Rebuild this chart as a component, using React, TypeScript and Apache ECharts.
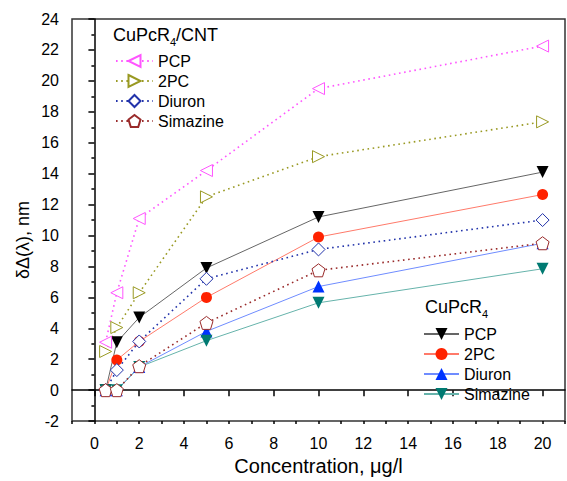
import React, { useEffect, useRef } from "react";
import * as echarts from "echarts";

const conc = [0.5, 1, 2, 5, 10, 20];
const pcp = [0, 3.1, 4.7, 7.9, 11.2, 14.1];
const pc2 = [0, 1.95, 3.15, 6.0, 9.9, 12.65];
const diuron = [0, 0, 1.5, 3.8, 6.7, 9.5];
const simazine = [0, 0, 1.5, 3.2, 5.65, 7.85];
const pcpCnt = [3.1, 6.3, 11.1, 14.2, 19.5, 22.25];
const pc2Cnt = [2.5, 4.05, 6.3, 12.5, 15.1, 17.35];
const diuronCnt = [0, 1.3, 3.15, 7.2, 9.1, 11.0];
const simazineCnt = [0, 0, 1.55, 4.35, 7.75, 9.5];

const xMajor = [0, 2, 4, 6, 8, 10, 12, 14, 16, 18, 20];

const FONT = "'Liberation Sans', Arial, Helvetica, sans-serif";

const DOWN = "path://M0,0 L10,0 L5,9 Z";
const LEFT = "path://M0,5 L9,0 L9,10 Z";
const RIGHT = "path://M0,0 L9,5 L0,10 Z";
const PENT = "path://M5,0 L10,3.8 L8.1,10 L1.9,10 L0,3.8 Z";

const pts = (ys: number[]) => conc.map((c, i) => [c, ys[i]]);

export default function App() {
  const ref = useRef<HTMLDivElement>(null);
  useEffect(() => {
    if (!ref.current) return;
    const chart = echarts.init(ref.current, null, { renderer: "svg" });
    const solid = (name: string, data: number[], symbol: string, size: number, mColor: string, lColor: string) => ({
      name,
      type: "line",
      data: pts(data),
      symbol,
      symbolSize: size,
      showAllSymbol: true,
      itemStyle: { color: mColor, borderWidth: 0 },
      lineStyle: { color: lColor, width: 1, type: "solid" },
      emphasis: { disabled: true },
    });
    const dotted = (name: string, data: number[], symbol: string, size: number, color: string) => ({
      name,
      type: "line",
      data: pts(data),
      symbol,
      symbolSize: size,
      showAllSymbol: true,
      itemStyle: { color: "#ffffff", borderColor: color, borderWidth: 1 },
      lineStyle: { color, width: 1.6, type: [1.6, 3.6] },
      emphasis: { disabled: true },
    });
    const option: any = {
      animation: false,
      backgroundColor: "#ffffff",
      textStyle: { fontFamily: FONT },
      grid: {
        left: 72,
        right: 2,
        top: 19,
        bottom: 53,
        show: true,
        borderColor: "#333",
        borderWidth: 1.5,
        backgroundColor: "transparent",
      },
      xAxis: [
        {
          type: "value",
          min: -1,
          max: 21,
          position: "bottom",
          axisLine: { show: true, lineStyle: { color: "#000", width: 1.5 } },
          axisTick: { show: true, inside: false, length: 6, customValues: xMajor, lineStyle: { color: "#000", width: 1.5 } },
          axisLabel: { customValues: xMajor, fontSize: 16, color: "#000", margin: 14, fontFamily: FONT },
          splitLine: { show: false },
          name: "Concentration, μg/l",
          nameLocation: "middle",
          nameGap: 28,
          nameTextStyle: { fontSize: 20, color: "#000", fontFamily: FONT },
        },
        {
          type: "value",
          min: -1,
          max: 21,
          interval: 1,
          position: "bottom",
          axisLine: { show: false },
          axisTick: { show: true, inside: false, length: 3, lineStyle: { color: "#000", width: 1.5 } },
          axisLabel: { show: false },
          splitLine: { show: false },
        },
      ],
      yAxis: {
        type: "value",
        min: -2,
        max: 24,
        interval: 2,
        axisLine: { show: true, lineStyle: { color: "#000", width: 1.5 } },
        axisTick: { show: true, inside: false, length: 6, lineStyle: { color: "#000", width: 1.5 } },
        minorTick: { show: true, splitNumber: 2, length: 3, lineStyle: { color: "#000", width: 1.5 } },
        axisLabel: { fontSize: 16, color: "#000", margin: 13, fontFamily: FONT },
        splitLine: { show: false },
      },
      legend: [
        {
          orient: "vertical",
          left: 115,
          top: 51,
          padding: 0,
          itemGap: 0,
          itemWidth: 37,
          itemHeight: 15,
          itemTextGap: 5,
          selectedMode: false,
          textStyle: { fontSize: 16, color: "#000", lineHeight: 20, fontFamily: FONT },
          data: ["PCP ", "2PC ", "Diuron ", "Simazine "],
        },
        {
          orient: "vertical",
          left: 423,
          top: 324,
          padding: 0,
          itemGap: 0,
          itemWidth: 35,
          itemHeight: 15,
          itemTextGap: 6,
          selectedMode: false,
          textStyle: { fontSize: 16, color: "#000", lineHeight: 20, fontFamily: FONT },
          data: ["PCP", "2PC", "Diuron", "Simazine"],
        },
      ],
      graphic: [
        { type: "text", x: 113, y: 35, style: { text: "CuPcR", fontSize: 18, fontFamily: FONT, fill: "#000", verticalAlign: "middle" } },
        { type: "text", x: 170, y: 42, style: { text: "4", fontSize: 11, fontFamily: FONT, fill: "#000", verticalAlign: "middle" } },
        { type: "text", x: 176, y: 35, style: { text: "/CNT", fontSize: 18, fontFamily: FONT, fill: "#000", verticalAlign: "middle" } },
        { type: "text", x: 425, y: 307, style: { text: "CuPcR", fontSize: 18, fontFamily: FONT, fill: "#000", verticalAlign: "middle" } },
        { type: "text", x: 482, y: 314, style: { text: "4", fontSize: 11, fontFamily: FONT, fill: "#000", verticalAlign: "middle" } },
        {
          type: "text",
          x: 23,
          y: 240,
          rotation: Math.PI / 2,
          style: { text: "δΔ(λ), nm", fontSize: 18, fontFamily: FONT, fill: "#000", align: "center", verticalAlign: "middle" },
        },
      ],
      series: [
        solid("PCP", pcp, DOWN, 12, "#000000", "#666666"),
        solid("2PC", pc2, "circle", 11, "#ff2200", "#ff7a6a"),
        solid("Diuron", diuron, "triangle", 12, "#0033ff", "#6f8cff"),
        solid("Simazine", simazine, DOWN, 12, "#007a72", "#66b3ab"),
        dotted("PCP ", pcpCnt, LEFT, 12, "#ff55ff"),
        dotted("2PC ", pc2Cnt, RIGHT, 12, "#999922"),
        dotted("Diuron ", diuronCnt, "diamond", 13, "#2233aa"),
        dotted("Simazine ", simazineCnt, PENT, 13, "#992a2a"),
      ],
    };
    chart.setOption(option);
    return () => chart.dispose();
  }, []);
  return <div ref={ref} style={{ position: "fixed", left: 0, top: 0, width: 567, height: 481 }} />;
}
